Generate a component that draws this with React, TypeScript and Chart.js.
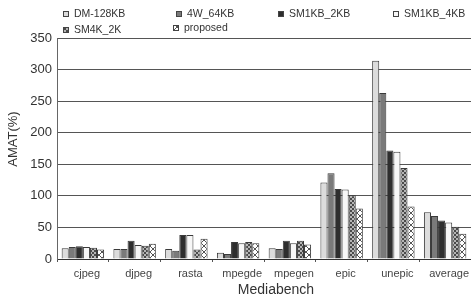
import React, { useEffect, useRef } from "react";
import { Chart, registerables } from "chart.js";

Chart.register(...registerables);

const categories = ["cjpeg", "djpeg", "rasta", "mpegde", "mpegen", "epic", "unepic", "average"];
const seriesNames = ["DM-128KB", "4W_64KB", "SM1KB_2KB", "SM1KB_4KB", "SM4K_2K", "proposed"];
const dm128 = [17, 16, 16, 10, 17, 121, 314, 74];
const w4_64 = [19, 16, 13, 8, 16, 136, 263, 68];
const sm1kb2kb = [20, 29, 38, 27, 29, 111, 172, 61];
const sm1kb4kb = [19, 22, 38, 25, 25, 110, 170, 58];
const sm4k2k = [18, 21, 15, 27, 29, 101, 144, 51];
const proposed = [15, 24, 32, 25, 23, 80, 83, 40];
const yTicks = [0, 50, 100, 150, 200, 250, 300, 350];

const FONT = "'Liberation Sans', Arial, sans-serif";

function makeChecker(): CanvasPattern | string {
  const c = document.createElement("canvas");
  c.width = 4;
  c.height = 4;
  const g = c.getContext("2d");
  if (!g) return "#888";
  g.fillStyle = "#b5b5b5";
  g.fillRect(0, 0, 4, 4);
  g.fillStyle = "#4a4a4a";
  g.fillRect(0, 0, 2, 2);
  g.fillRect(2, 2, 2, 2);
  const p = g.createPattern(c, "repeat");
  return p || "#888";
}

function makeCross(): CanvasPattern | string {
  const c = document.createElement("canvas");
  c.width = 6;
  c.height = 6;
  const g = c.getContext("2d");
  if (!g) return "#ddd";
  g.fillStyle = "#ffffff";
  g.fillRect(0, 0, 6, 6);
  g.fillStyle = "#555555";
  for (let i = 0; i < 6; i++) {
    g.fillRect(i, i, 1, 1);
    g.fillRect(5 - i, i, 1, 1);
  }
  const p = g.createPattern(c, "repeat");
  return p || "#ddd";
}

export default function App() {
  const ref = useRef<HTMLCanvasElement>(null);

  useEffect(() => {
    if (!ref.current) return;
    const checker = makeChecker();
    const cross = makeCross();
    const fills: any[] = ["#dcdcdc", "#7a7a7a", "#2e2e2e", "#f7f7f7", checker, cross];
    const values = [dm128, w4_64, sm1kb2kb, sm1kb4kb, sm4k2k, proposed];

    const legendPos = [
      { x: 63, y: 14 },
      { x: 176, y: 14 },
      { x: 278, y: 14 },
      { x: 393, y: 14 },
      { x: 63, y: 30 },
      { x: 173, y: 28 },
    ];

    const overlay = {
      id: "overlay",
      afterDraw(chart: any) {
        const ctx = chart.ctx;
        ctx.save();
        // legend
        ctx.font = `10.5px ${FONT}`;
        ctx.textBaseline = "middle";
        ctx.textAlign = "left";
        seriesNames.forEach((name, i) => {
          const p = legendPos[i];
          ctx.fillStyle = fills[i];
          ctx.fillRect(p.x, p.y - 3, 6, 6);
          ctx.strokeStyle = "#444";
          ctx.lineWidth = 1;
          ctx.strokeRect(p.x + 0.5, p.y - 2.5, 5, 5);
          ctx.fillStyle = "#333";
          ctx.fillText(name, p.x + 11, p.y);
        });
        // axis titles
        ctx.fillStyle = "#333";
        ctx.font = `14px ${FONT}`;
        ctx.textAlign = "center";
        ctx.fillText("Mediabench", 276, 290);
        ctx.translate(13, 139);
        ctx.rotate(-Math.PI / 2);
        ctx.font = `13px ${FONT}`;
        ctx.fillText("AMAT(%)", 0, 0);
        ctx.restore();
      },
    };

    const chart = new Chart(ref.current, {
      type: "bar",
      data: {
        labels: categories,
        datasets: seriesNames.map((name, i) => ({
          label: name,
          data: values[i],
          backgroundColor: fills[i],
          borderColor: "#3a3a3a",
          borderWidth: 1,
          categoryPercentage: 0.82,
          barPercentage: 1.0,
        })),
      },
      options: {
        responsive: false,
        animation: false,
        devicePixelRatio: 1,
        layout: { padding: { top: 38, left: 0, right: 0, bottom: 0 } },
        plugins: {
          legend: { display: false },
          tooltip: { enabled: false },
        },
        scales: {
          x: {
            offset: true,
            grid: {
              display: true,
              drawOnChartArea: false,
              drawTicks: true,
              tickLength: 3,
              color: "#555",
              offset: true,
            },
            border: { display: true, color: "#333", width: 1 },
            ticks: {
              font: { family: FONT, size: 11 },
              color: "#444",
              padding: 5,
              labelOffset: 4,
              maxRotation: 0,
              autoSkip: false,
            },
            afterFit(scale: any) {
              scale.height = 39;
            },
          },
          y: {
            min: 0,
            max: 350,
            afterBuildTicks(scale: any) {
              scale.ticks = yTicks.map((v) => ({ value: v }));
            },
            grid: {
              color: "#555",
              lineWidth: 1,
              drawTicks: false,
            },
            border: { display: true, color: "#666", width: 1 },
            ticks: {
              font: { family: FONT, size: 13 },
              color: "#333",
              padding: 5,
            },
            afterFit(scale: any) {
              scale.width = 57;
            },
          },
        },
      },
      plugins: [overlay],
    });
    return () => chart.destroy();
  }, []);

  return (
    <div style={{ position: "fixed", left: 0, top: 0, width: 471, height: 298, background: "#fff" }}>
      <canvas ref={ref} width={471} height={298} style={{ width: 471, height: 298 }} />
    </div>
  );
}
